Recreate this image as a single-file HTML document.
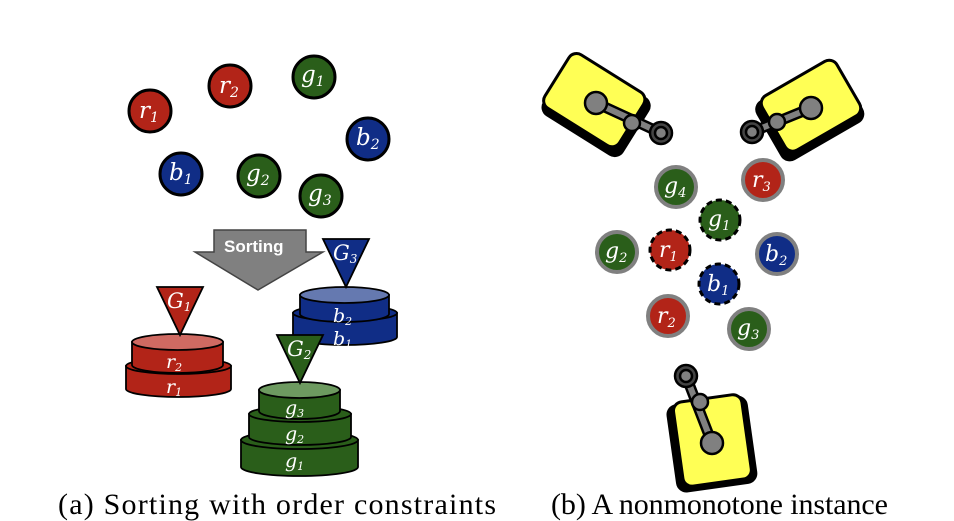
<!DOCTYPE html>
<html><head><style>
html,body{margin:0;padding:0;background:#fff;}
svg{display:block;}
.lbl{font-family:"DejaVu Serif","Liberation Serif",serif;font-style:italic;fill:#fff;}
.cap{font-family:"Liberation Serif",serif;font-size:30px;fill:#000;}
</style></head><body>
<svg width="954" height="521" viewBox="0 0 954 521" xmlns="http://www.w3.org/2000/svg">
<g stroke="#000" stroke-width="3">
<circle cx="150" cy="111" r="21" fill="#b22418"/>
<circle cx="230" cy="86" r="21" fill="#b22418"/>
<circle cx="314" cy="77" r="21" fill="#2a5e1a"/>
<circle cx="368" cy="139" r="21" fill="#102d86"/>
<circle cx="181" cy="174" r="21" fill="#102d86"/>
<circle cx="259" cy="176" r="21" fill="#2a5e1a"/>
<circle cx="321" cy="196" r="21" fill="#2a5e1a"/>
</g>
<g class="lbl" font-size="23">
<text x="139" y="118">r<tspan font-size="14" dy="4">1</tspan></text>
<text x="219" y="93">r<tspan font-size="14" dy="4">2</tspan></text>
<text x="301" y="82">g<tspan font-size="14" dy="4">1</tspan></text>
<text x="356" y="145">b<tspan font-size="14" dy="4">2</tspan></text>
<text x="169" y="180">b<tspan font-size="14" dy="4">1</tspan></text>
<text x="246" y="181">g<tspan font-size="14" dy="4">2</tspan></text>
<text x="308" y="201">g<tspan font-size="14" dy="4">3</tspan></text>
</g>
<polygon points="214,230 306,230 306,252 323,252 258,290 195,252 214,252" fill="#808080" stroke="#444" stroke-width="1.5"/>
<text x="224" y="252" font-family="Liberation Sans,sans-serif" font-weight="bold" font-size="17" fill="#fff">Sorting</text>

<g stroke="#000" stroke-width="1.8">
<path d="M126,366 L126,389 A52.5,8 0 0 0 231,389 L231,366 Z" fill="#b22418"/>
<ellipse cx="178.5" cy="366" rx="52.5" ry="8" fill="#b22418"/>
<path d="M132,342 L132,365 A45.5,8 0 0 0 223,365 L223,342 Z" fill="#b22418"/>
<ellipse cx="177.5" cy="342" rx="45.5" ry="8" fill="#cf6a62"/>
<path d="M293,313 L293,337 A52,8 0 0 0 397,337 L397,313 Z" fill="#102d86"/>
<ellipse cx="345" cy="313" rx="52" ry="8" fill="#102d86"/>
<path d="M300,295 L300,314 A44.5,8 0 0 0 389,314 L389,295 Z" fill="#102d86"/>
<ellipse cx="344.5" cy="295" rx="44.5" ry="8" fill="#6579b0"/>
<path d="M241,440 L241,467 A58.5,9 0 0 0 358,467 L358,440 Z" fill="#2a5e1a"/>
<ellipse cx="299.5" cy="440" rx="58.5" ry="9" fill="#2a5e1a"/>
<path d="M249,414 L249,437 A51,8 0 0 0 351,437 L351,414 Z" fill="#2a5e1a"/>
<ellipse cx="300" cy="414" rx="51" ry="8" fill="#2a5e1a"/>
<path d="M259,390 L259,411 A40.5,8 0 0 0 340,411 L340,390 Z" fill="#2a5e1a"/>
<ellipse cx="299.5" cy="390" rx="40.5" ry="8" fill="#6d9a60"/>
<polygon points="157,287 203,287 180,335" fill="#b22418"/>
<polygon points="277,335 323,335 300,383" fill="#2a5e1a"/>
<polygon points="323,239 369,239 346,287" fill="#102d86"/>
</g>
<g class="lbl" font-size="19">
<text x="166" y="368">r<tspan font-size="11" dy="3">2</tspan></text>
<text x="166" y="393">r<tspan font-size="11" dy="3">1</tspan></text>
<text x="333" y="322">b<tspan font-size="11" dy="3">2</tspan></text>
<text x="333" y="345">b<tspan font-size="11" dy="3">1</tspan></text>
<text x="285" y="414">g<tspan font-size="11" dy="3">3</tspan></text>
<text x="285" y="440">g<tspan font-size="11" dy="3">2</tspan></text>
<text x="285" y="467">g<tspan font-size="11" dy="3">1</tspan></text>
<text x="167" y="308" font-size="21">G<tspan font-size="12" dy="3">1</tspan></text>
<text x="287" y="356" font-size="21">G<tspan font-size="12" dy="3">2</tspan></text>
<text x="333" y="260" font-size="21">G<tspan font-size="12" dy="3">3</tspan></text>
</g>

<g stroke="#000" stroke-width="3">
<g transform="translate(596,103) rotate(32)">
<rect x="-44" y="-30" width="92" height="66" rx="9" fill="#000"/>
<rect x="-47" y="-33" width="88" height="63" rx="9" fill="#ffff55"/>
</g>
<g transform="translate(810,108) rotate(-30)">
<rect x="-48" y="-30" width="92" height="66" rx="9" fill="#000"/>
<rect x="-41" y="-33" width="86" height="63" rx="9" fill="#ffff55"/>
</g>
<g transform="translate(712,441) rotate(-8)">
<rect x="-40" y="-40" width="79" height="86" rx="9" fill="#000"/>
<rect x="-34" y="-43" width="69" height="85" rx="9" fill="#ffff55"/>
</g>
</g>
<g stroke="#000" stroke-width="2.5" fill="#808080">
<line x1="596" y1="103" x2="661" y2="133" stroke="#000" stroke-width="11"/>
<line x1="596" y1="103" x2="661" y2="133" stroke="#808080" stroke-width="6"/>
<circle cx="661" cy="133" r="11" fill="#444"/><circle cx="661" cy="133" r="6"/>
<circle cx="632" cy="123" r="8"/><circle cx="596" cy="103" r="11"/>
<line x1="811" y1="108" x2="752" y2="132" stroke="#000" stroke-width="11"/>
<line x1="811" y1="108" x2="752" y2="132" stroke="#808080" stroke-width="6"/>
<circle cx="752" cy="132" r="11" fill="#444"/><circle cx="752" cy="132" r="6"/>
<circle cx="777" cy="122" r="8"/><circle cx="811" cy="108" r="11"/>
<line x1="712" y1="443" x2="686" y2="376" stroke="#000" stroke-width="11"/>
<line x1="712" y1="443" x2="686" y2="376" stroke="#808080" stroke-width="6"/>
<circle cx="686" cy="376" r="11" fill="#444"/><circle cx="686" cy="376" r="6"/>
<circle cx="700" cy="402" r="8"/><circle cx="712" cy="443" r="11"/>
</g>
<g stroke="#808080" stroke-width="4">
<circle cx="676" cy="187" r="20" fill="#2a5e1a"/>
<circle cx="763" cy="180" r="20" fill="#b22418"/>
<circle cx="617" cy="252" r="20" fill="#2a5e1a"/>
<circle cx="777" cy="254" r="20" fill="#102d86"/>
<circle cx="668" cy="316" r="20" fill="#b22418"/>
<circle cx="749" cy="329" r="20" fill="#2a5e1a"/>
</g>
<g stroke="#000" stroke-width="3" stroke-dasharray="6,4">
<circle cx="720" cy="220" r="20" fill="#2a5e1a"/>
<circle cx="670" cy="250" r="20" fill="#b22418"/>
<circle cx="719" cy="284" r="20" fill="#102d86"/>
</g>
<g class="lbl" font-size="22">
<text x="664" y="193">g<tspan font-size="13" dy="4">4</tspan></text>
<text x="752" y="187">r<tspan font-size="13" dy="4">3</tspan></text>
<text x="708" y="226">g<tspan font-size="13" dy="4">1</tspan></text>
<text x="605" y="258">g<tspan font-size="13" dy="4">2</tspan></text>
<text x="659" y="257">r<tspan font-size="13" dy="4">1</tspan></text>
<text x="765" y="261">b<tspan font-size="13" dy="4">2</tspan></text>
<text x="707" y="291">b<tspan font-size="13" dy="4">1</tspan></text>
<text x="657" y="323">r<tspan font-size="13" dy="4">2</tspan></text>
<text x="737" y="335">g<tspan font-size="13" dy="4">3</tspan></text>
</g>
<text class="cap" x="58" y="514" textLength="438" lengthAdjust="spacing">(a) Sorting with order constraints</text>
<text class="cap" x="551" y="514" textLength="337" lengthAdjust="spacing">(b) A nonmonotone instance</text>
</svg>
</body></html>
